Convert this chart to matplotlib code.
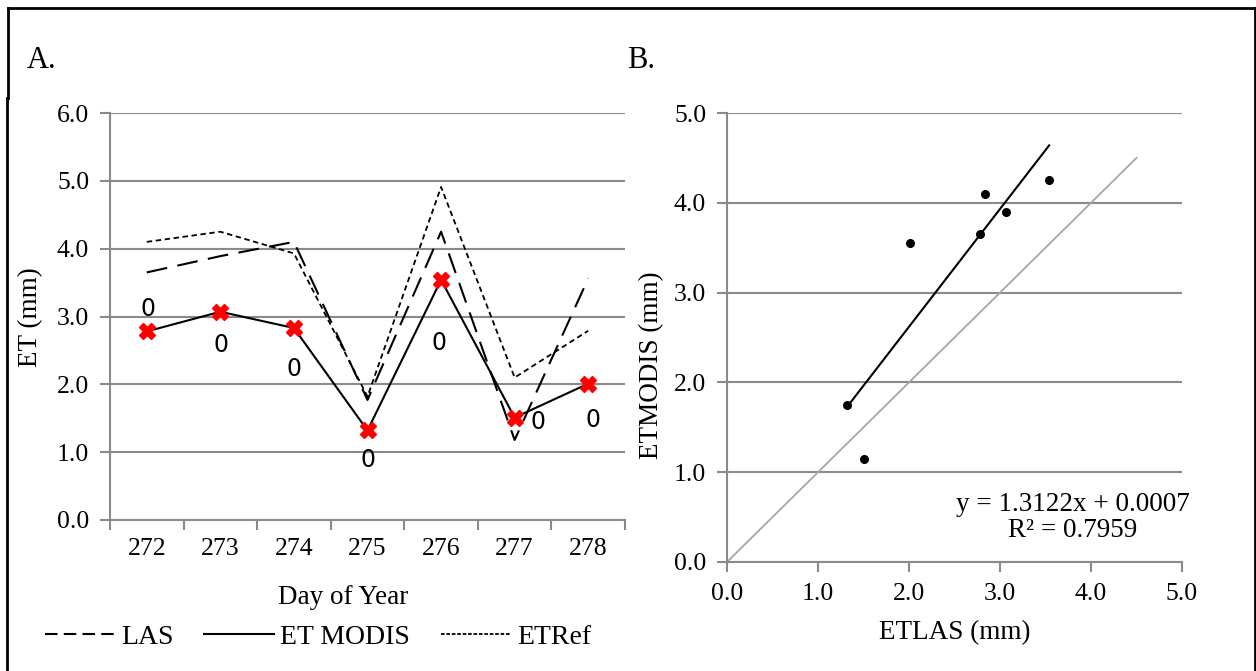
import numpy as np
import matplotlib
matplotlib.use("Agg")
import matplotlib.pyplot as plt
from matplotlib.lines import Line2D

# ---- data ----
days = ["272", "273", "274", "275", "276", "277", "278"]
las = [3.65, 3.89, 4.10, 1.77, 4.25, 1.18, 3.56]
et_modis = [2.78, 3.07, 2.83, 1.32, 3.54, 1.51, 2.01]
et_ref = [4.10, 4.25, 3.93, 1.82, 4.91, 2.10, 2.79]
point_labels = ["0", "0", "0", "0", "0", "0", "0"]
y_ticks_a = [0.0, 1.0, 2.0, 3.0, 4.0, 5.0, 6.0]

scatter_x = [2.78, 3.07, 2.83, 1.32, 3.54, 1.51, 2.01]   # ETLAS axis
scatter_y = [3.65, 3.90, 4.10, 1.75, 4.25, 1.15, 3.55]   # ETMODIS axis
ticks_b = [0.0, 1.0, 2.0, 3.0, 4.0, 5.0]
one_to_one = [0.0, 4.5]
eq_text = "y = 1.3122x + 0.0007\nR² = 0.7959"

SERIF = "Liberation Serif"
GRID = "#8a8a8a"
W, H = 1256, 671
TICK_FS = 18.5
LABEL_FS = 19.5

fig = plt.figure(figsize=(12.56, 6.71), dpi=100)
fig.patch.set_facecolor("white")

def fx(px):
    return px / W

def fy(py):
    return 1 - py / H

def style_axes(ax):
    for s in ["top", "right"]:
        ax.spines[s].set_visible(False)
    for s in ["left", "bottom"]:
        ax.spines[s].set_color(GRID)
        ax.spines[s].set_linewidth(1.5)
    ax.grid(axis="y", color=GRID, linewidth=1.5)
    ax.set_axisbelow(True)
    ax.tick_params(axis="both", colors=GRID, width=1.5, length=7, direction="out",
                   labelcolor="black", labelsize=TICK_FS)
    ax.tick_params(axis="y", pad=8)
    for lab in ax.get_xticklabels() + ax.get_yticklabels():
        lab.set_fontfamily(SERIF)

# ---- Panel A ----
axA = fig.add_axes([fx(110), fy(520), 515 / W, 407 / H])
x = np.arange(len(days)) + 0.5
axA.plot(x, las, color="black", linewidth=1.5, dashes=(10, 5))
axA.plot(x, et_ref, color="black", linewidth=1.3, dashes=(3, 2))
axA.plot(x, et_modis, color="black", linewidth=1.5)
axA.plot(x, et_modis, linestyle="none", marker="X", markersize=12,
         markerfacecolor="red", markeredgecolor="red")
axA.set_xlim(0, len(days))
axA.set_ylim(0, 6)
axA.set_yticks(y_ticks_a)
axA.set_yticklabels([f"{v:.1f}" for v in y_ticks_a])
axA.set_xticks(np.arange(len(days) + 1))
axA.set_xticklabels([])
axA.set_xticks(x, minor=True)
axA.set_xticklabels(days, minor=True)
style_axes(axA)
axA.tick_params(axis="x", which="minor", length=0, labelsize=TICK_FS, pad=13)
for lab in axA.get_xticklabels(minor=True):
    lab.set_fontfamily(SERIF)
fig.text(fx(31), fy(317), "ET (mm)", rotation=90, ha="center", va="center",
         fontsize=LABEL_FS, fontfamily=SERIF)
fig.text(fx(343), fy(597), "Day of Year", ha="center", va="center",
         fontsize=LABEL_FS, fontfamily=SERIF)

offsets = [(1, 22), (1, -33), (0, -41), (1, -30), (-2, -63), (23, -4), (5, -36)]
for xi, yi, t, off in zip(x, et_modis, point_labels, offsets):
    axA.annotate(t, (xi, yi), xytext=off, textcoords="offset pixels",
                 ha="center", va="center", fontsize=17, fontfamily="DejaVu Sans")

handles = [
    Line2D([0], [0], color="black", linewidth=1.5, dashes=(6, 3)),
    Line2D([0], [0], color="black", linewidth=1.5),
    Line2D([0], [0], color="black", linewidth=1.3, dashes=(2, 1)),
]
fig.legend(handles, ["LAS", "ET MODIS", "ETRef"], loc="center",
           bbox_to_anchor=(fx(318), fy(637)), ncol=3, frameon=False,
           prop={"family": SERIF, "size": 20}, handlelength=2.5,
           columnspacing=1.1, handletextpad=0.25, borderpad=0, borderaxespad=0)

# ---- Panel B ----
axB = fig.add_axes([fx(727), fy(562), 455 / W, 449 / H])
axB.plot(one_to_one, one_to_one, color="#a6a6a6", linewidth=1.3)
coef = np.polyfit(scatter_x, scatter_y, 1)
xf = np.array([min(scatter_x), max(scatter_x)])
axB.plot(xf, np.polyval(coef, xf), color="black", linewidth=1.5)
axB.scatter(scatter_x, scatter_y, color="black", s=30, zorder=3)
axB.set_xlim(0, 5)
axB.set_ylim(0, 5)
axB.set_xticks(ticks_b)
axB.set_xticklabels([f"{v:.1f}" for v in ticks_b])
axB.set_yticks(ticks_b)
axB.set_yticklabels([f"{v:.1f}" for v in ticks_b])
style_axes(axB)
axB.tick_params(axis="x", pad=8)
fig.text(fx(652), fy(365), "ETMODIS (mm)", rotation=90, ha="center", va="center",
         fontsize=LABEL_FS, fontfamily=SERIF)
fig.text(fx(955), fy(633), "ETLAS (mm)", ha="center", va="center",
         fontsize=LABEL_FS, fontfamily=SERIF)
axB.text(3.80, 0.50, eq_text, ha="center", va="center", fontsize=19.5,
         fontfamily=SERIF, linespacing=1.05)

# ---- panel letters ----
fig.text(fx(27), fy(60), "A.", fontsize=22, fontfamily=SERIF, va="center")
fig.text(fx(627), fy(60), "B.", fontsize=22, fontfamily=SERIF, va="center")

# ---- outer frame ----
frame = [
    ((8, W - 1), (8, 8)),
    ((W - 1, W - 1), (8, H)),
    ((8, 8), (8, 98)),
    ((7, 7), (98, H)),
]
for xs, ys in frame:
    fig.add_artist(Line2D([fx(v) for v in xs], [fy(v) for v in ys],
                          color="black", linewidth=2, transform=fig.transFigure))

fig.savefig("out.png", dpi=100, facecolor="white")
